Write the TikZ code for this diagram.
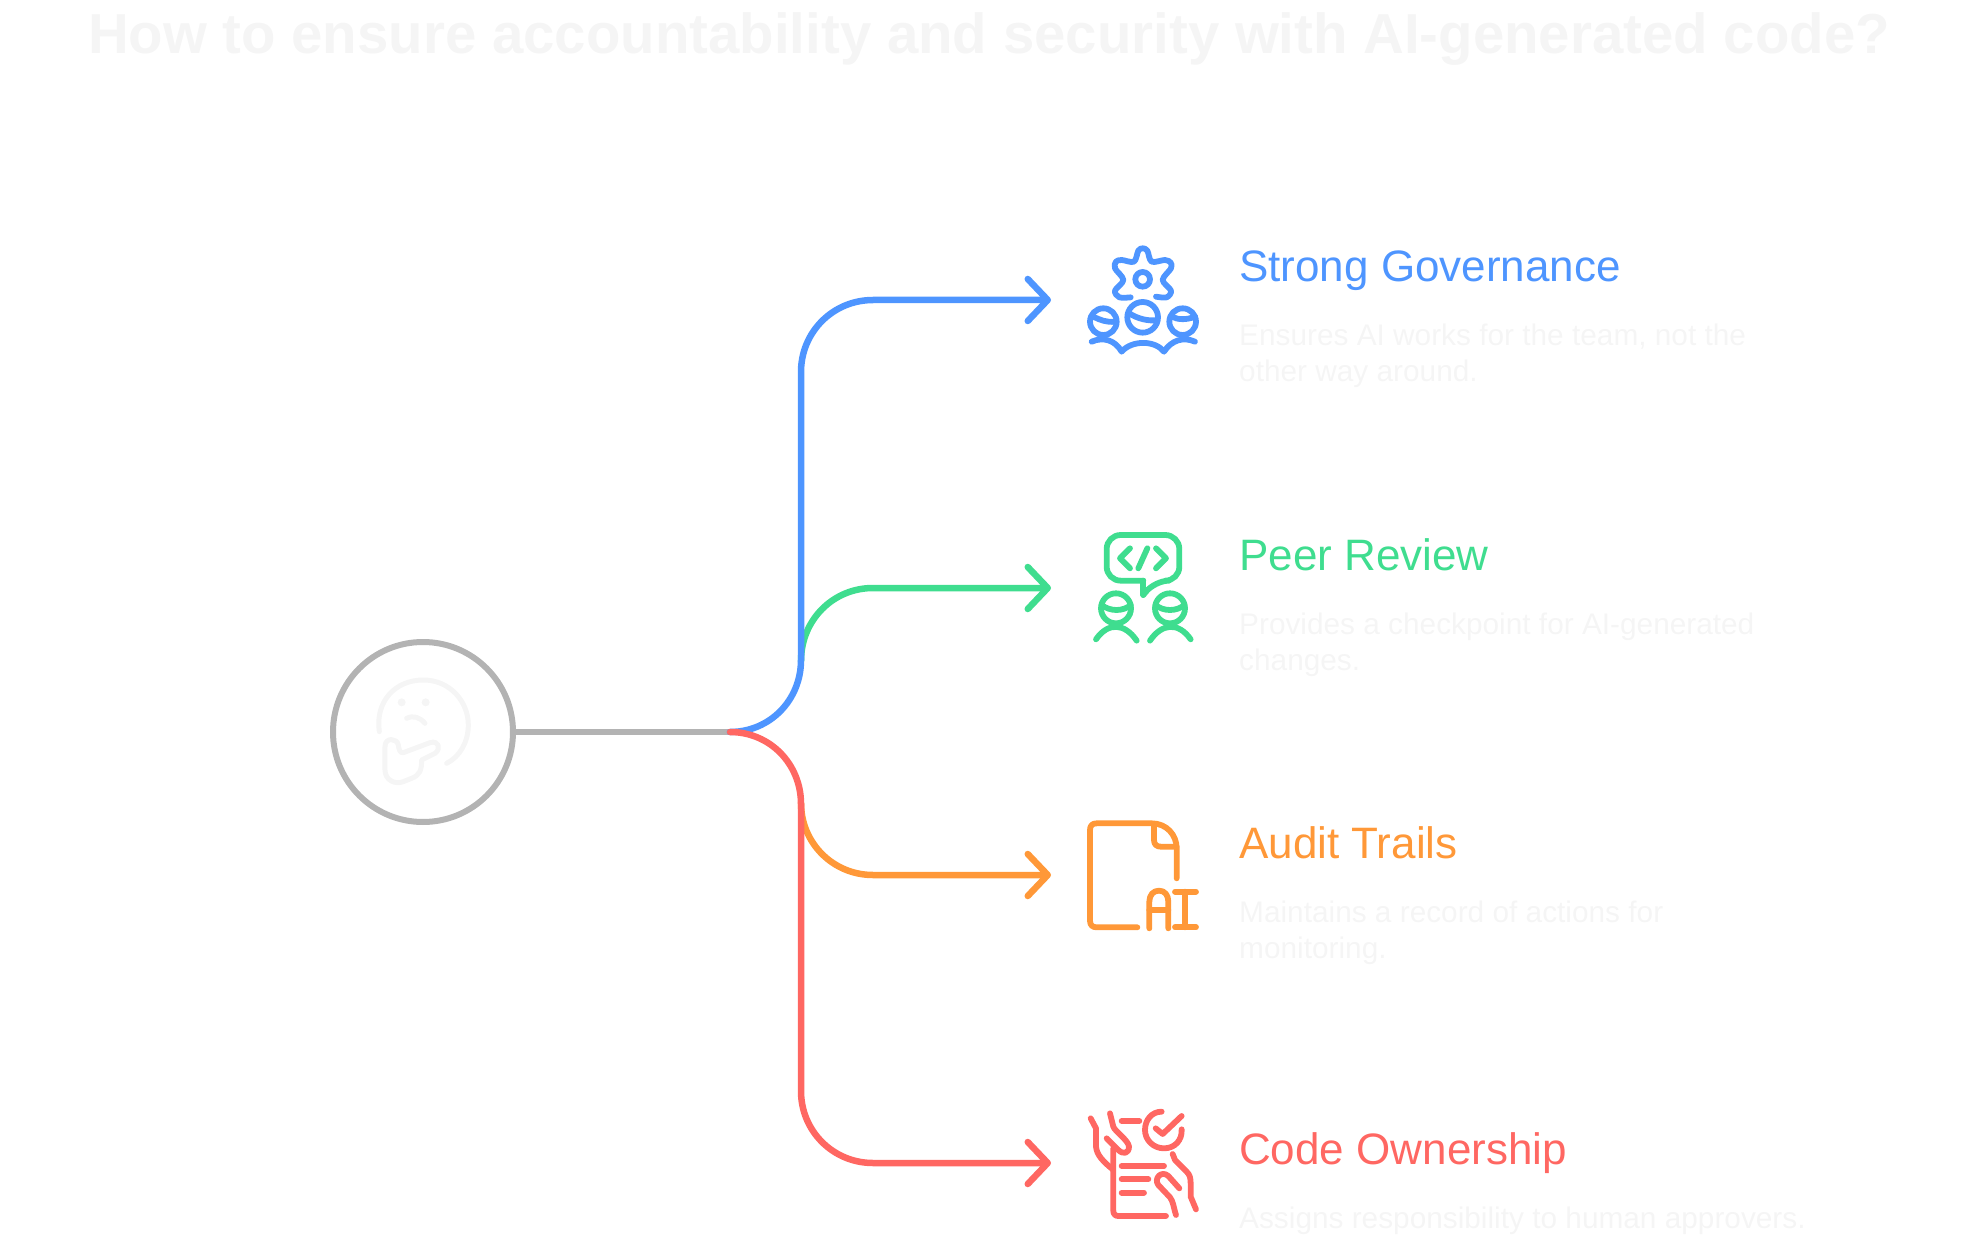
\documentclass[tikz,border=0pt]{standalone}
\usepackage{fontspec}
\setmainfont{Liberation Sans}
\usetikzlibrary{arrows.meta}
\definecolor{hubgray}{HTML}{B3B3B3}
\definecolor{faint}{HTML}{F5F5F5}
\definecolor{govblue}{HTML}{4E95FF}
\definecolor{peergreen}{HTML}{3FDD8F}
\definecolor{auditorange}{HTML}{FF9838}
\definecolor{ownred}{HTML}{FF6762}
\tikzset{
  branch/.style={line width=6.5pt, line cap=round, -{Straight Barb[length=20pt,width=42pt,line cap=round,round]}},
  heading/.style={anchor=base west, font=\fontsize{44}{44}\selectfont, inner sep=0pt},
  blurb/.style={anchor=base west, font=\fontsize{29.8}{36}\selectfont, text=faint, inner sep=0pt, align=left},
  iconline/.style={line width=5.8pt, line cap=round, line join=round},
}
\begin{document}
\begin{tikzpicture}[x=1pt, y=-1pt]
\useasboundingbox (0,0) rectangle (1981,1246);
% title
\node[anchor=base, font=\bfseries\fontsize{56.4}{56.4}\selectfont, text=faint, inner sep=0pt] (title) at (989,54) {How to ensure accountability and security with AI-generated code?};
% hub and branches
\node[circle, draw=hubgray, line width=6pt, minimum size=180pt, inner sep=0pt] (hub) at (423,732) {};
\coordinate (split) at (730,732);
\coordinate (govend) at (1051,300);
\coordinate (peerend) at (1051,588);
\coordinate (auditend) at (1051,875);
\coordinate (ownend) at (1051,1163);
\draw[hubgray, line width=6.5pt] (hub) -- (split);
\draw[branch, peergreen] (801,661) .. controls (801,620) and (833,588) .. (873,588) -- (peerend);
\draw[branch, auditorange] (801,803) .. controls (801,843) and (833,875) .. (873,875) -- (auditend);
\draw[branch, govblue] (split) .. controls (770,732) and (801,700) .. (801,660) -- (801,372) .. controls (801,332) and (833,300) .. (873,300) -- (govend);
\draw[branch, ownred] (split) .. controls (770,732) and (801,764) .. (801,804) -- (801,1091) .. controls (801,1131) and (833,1163) .. (873,1163) -- (ownend);
% thinking face
\begin{scope}[shift={(320,630)}, x=0.3333pt, y=-0.3333pt, iconline, draw=faint, line width=5pt]
\draw (178,305) .. controls (165,215) and (225,150) .. (310,150) .. controls (390,150) and (445,215) .. (445,285) .. controls (445,335) and (420,380) .. (380,400);
\fill[faint] (245,217) circle (12) (317,217) circle (12);
\draw (260,265) .. controls (280,255) and (300,262) .. (315,280);
\draw (235,345) .. controls (232,325) and (195,320) .. (195,350) -- (195,420) .. controls (195,450) and (225,465) .. (250,455) -- (275,445) .. controls (300,435) and (305,420) .. (305,390) -- (345,370) .. controls (365,355) and (355,330) .. (330,338) -- (250,368) .. controls (240,370) and (237,360) .. (235,345);
\end{scope}
% governance icon
\begin{scope}[shift={(1060,220)}, x=0.3333pt, y=-0.3333pt, iconline, draw=govblue]
\draw plot[smooth, tension=0.55] coordinates {(212,232) (178,232) (165,212) (190,180) (165,145) (168,125) (185,120) (222,125) (235,92) (248,85) (262,92) (275,125) (315,120) (332,128) (333,145) (308,180) (333,212) (320,232) (288,230)};
\draw (248,178) circle (22);
\draw (248,292) circle (46) (130,305) circle (40) (368,305) circle (40);
\draw (208,280) .. controls (230,295) and (265,305) .. (292,300);
\draw (100,290) .. controls (120,300) and (140,308) .. (165,305);
\draw (335,290) .. controls (355,300) and (380,300) .. (405,290);
\draw (95,365) .. controls (130,350) and (165,360) .. (185,395) .. controls (215,360) and (285,360) .. (312,395) .. controls (335,360) and (370,350) .. (405,365);
\end{scope}
% review icon
\begin{scope}[shift={(1060,510)}, x=0.3333pt, y=-0.3333pt, iconline, draw=peergreen]
\draw[rounded corners=14] (250,212) -- (140,212) -- (140,75) -- (358,75) -- (358,212) -- (285,212) -- (250,255);
\draw (250,212) -- (250,255);
\draw (210,115) -- (180,145) -- (210,175) (262,115) -- (235,175) (288,115) -- (318,145) -- (288,175);
\draw (168,295) circle (45) (330,295) circle (45);
\draw (125,285) .. controls (150,305) and (190,305) .. (212,285);
\draw (287,285) .. controls (310,305) and (350,305) .. (373,285);
\draw (108,388) .. controls (145,335) and (195,340) .. (230,392);
\draw (270,392) .. controls (305,340) and (355,335) .. (392,388);
\end{scope}
% audit icon
\begin{scope}[shift={(1060,800)}, x=0.3333pt, y=-0.3333pt, iconline, draw=auditorange]
\draw (232,382) -- (110,382) .. controls (97,382) and (90,375) .. (90,362) -- (90,90) .. controls (90,77) and (97,70) .. (110,70) -- (275,70) .. controls (320,70) and (350,105) .. (350,145) -- (350,235);
\draw (282,72) -- (282,120) .. controls (282,133) and (290,140) .. (302,140) -- (350,140);
\draw (268,385) -- (268,305) .. controls (268,285) and (280,272) .. (297,272) .. controls (314,272) and (325,285) .. (325,305) -- (325,385);
\draw (268,330) -- (325,330);
\draw (345,275) -- (408,275) (345,382) -- (408,382) (376,275) -- (376,382);
\end{scope}
% ownership icon
\begin{scope}[shift={(1060,1090)}, x=0.3333pt, y=-0.3333pt, iconline, draw=ownred]
\draw (92,85) -- (108,115) -- (108,170) .. controls (110,195) and (130,215) .. (158,238);
\draw (150,70) -- (160,110) .. controls (165,125) and (205,150) .. (207,170) .. controls (207,190) and (190,195) .. (175,180) -- (140,145);
\draw (185,93) -- (238,93);
\draw (305,65) .. controls (275,65) and (255,90) .. (255,120) .. controls (255,150) and (280,175) .. (312,175) .. controls (345,175) and (367,150) .. (365,118);
\draw (287,115) -- (308,132) -- (365,78);
\draw (160,175) -- (160,362) .. controls (160,372) and (165,378) .. (175,378) -- (318,378);
\draw (185,228) -- (312,228) (185,268) -- (265,268) (185,308) -- (252,308);
\draw (338,192) -- (345,210) -- (380,245) .. controls (390,255) and (392,265) .. (392,280) -- (392,320) -- (408,358);
\draw (358,295) -- (325,258) .. controls (305,240) and (280,265) .. (295,285) -- (330,322) .. controls (340,335) and (340,350) .. (348,375);
\end{scope}
% labels
\node[heading, text=govblue] (govlabel) at (1239,282) {Strong Governance};
\node[blurb] (govtext) at (1239,382) {Ensures AI works for the team, not the\\other way around.};
\node[heading, text=peergreen] (peerlabel) at (1239,570) {Peer Review};
\node[blurb] (peertext) at (1239,670) {Provides a checkpoint for AI-generated\\changes.};
\node[heading, text=auditorange] (auditlabel) at (1239,858) {Audit Trails};
\node[blurb] (audittext) at (1239,958) {Maintains a record of actions for\\monitoring.};
\node[heading, text=ownred] (ownlabel) at (1239,1164) {Code Ownership};
\node[blurb] (owntext) at (1239,1228) {Assigns responsibility to human approvers.};
\end{tikzpicture}
\end{document}
